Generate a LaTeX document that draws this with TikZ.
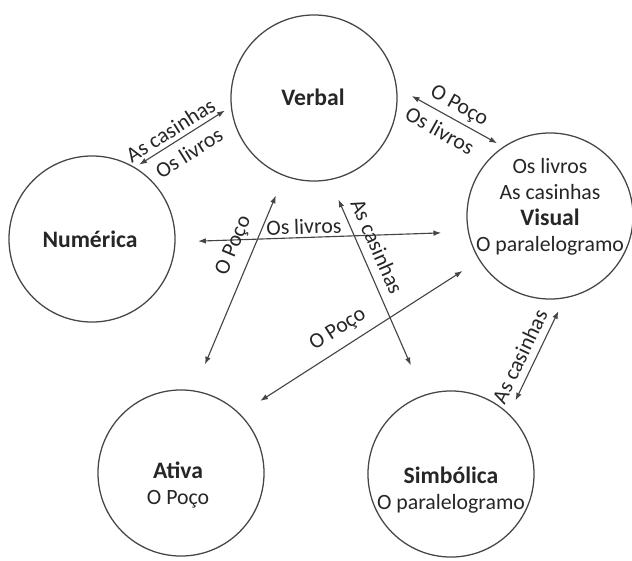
\documentclass[tikz,border=0pt]{standalone}
\usepackage{fontspec}
\setmainfont{Carlito}
\usetikzlibrary{arrows.meta}
\definecolor{ink}{HTML}{262626}
\definecolor{wire}{HTML}{454545}
\newcommand{\hd}[1]{{\fontsize{16.8}{18.5}\selectfont\bfseries #1}}

\begin{document}
\begin{tikzpicture}[x=0.025cm,y=-0.025cm,
    ring/.style={circle,draw=wire,line width=0.9pt,minimum size=4.15cm,inner sep=0pt},
    txt/.style={text=ink,font=\fontsize{15.5}{18.5}\selectfont,align=center,inner sep=1pt},
    link/.style={draw=wire,line width=0.8pt,{Latex[length=5.5pt,width=4pt]}-{Latex[length=5.5pt,width=4pt]}},
    lbl/.style={txt,sloped,inner sep=2pt}]
  \useasboundingbox (0,0) rectangle (632,560);

  % the five circles
  \foreach \n/\p in {verbal/{314,98},numerica/{92,239},visual/{550,216},ativa/{181,473},simbolica/{451,474}} {
    \node[ring] (\n) at (\p) {};
  }

  \node[txt] (verbal-t) at (313,97) {\hd{Verbal}};
  \node[txt] (numerica-t) at (90,239) {\hd{Numérica}};
  \node[txt] (visual-t) at (550,207) {Os livros\\As casinhas\\\hd{Visual}\\O paralelogramo};
  \node[txt] (ativa-t) at (178,485) {\hd{Ativa}\\O Poço};
  \node[txt] (simbolica-t) at (451,490) {\hd{Simbólica}\\O paralelogramo};

  % connections
  \draw[link,shorten <=3.5pt,shorten >=5pt] (numerica.59) -- (verbal.186)
    node[lbl,above=1pt,pos=0.44] (l1) {As casinhas}
    node[lbl,below=4pt,pos=0.47] (l2) {Os livros};
  \draw[link,shorten <=12pt,shorten >=5pt] (verbal.7.5) -- (visual.124.6)
    node[lbl,above=1pt,pos=0.52] (l3) {O Poço}
    node[lbl,below=4pt,pos=0.48] (l4) {Os livros};
  \draw[link,shorten <=16pt,shorten >=19pt] (numerica.-2.7) -- (visual.191)
    node[lbl,above=0pt,pos=0.44] (l5) {Os livros};
  \draw[link,shorten <=20pt,shorten >=15pt] (ativa.81) -- (verbal.249)
    node[lbl,above=5pt,pos=0.64] (l6) {O Poço};
  \draw[link,shorten <=15pt,shorten >=23pt] (verbal.281.6) -- (simbolica.109)
    node[lbl,above=4pt,pos=0.34] (l7) {As casinhas};
  \draw[link,shorten <=17pt,shorten >=14pt] (ativa.45.4) -- (visual.212.3)
    node[lbl,above=4pt,pos=0.45] (l8) {O Poço};
  \draw[link,shorten <=10.5pt,shorten >=10pt] (simbolica.46.7) -- (visual.280)
    node[lbl,above=3pt,pos=0.44] (l9) {As casinhas};
\end{tikzpicture}
\end{document}
